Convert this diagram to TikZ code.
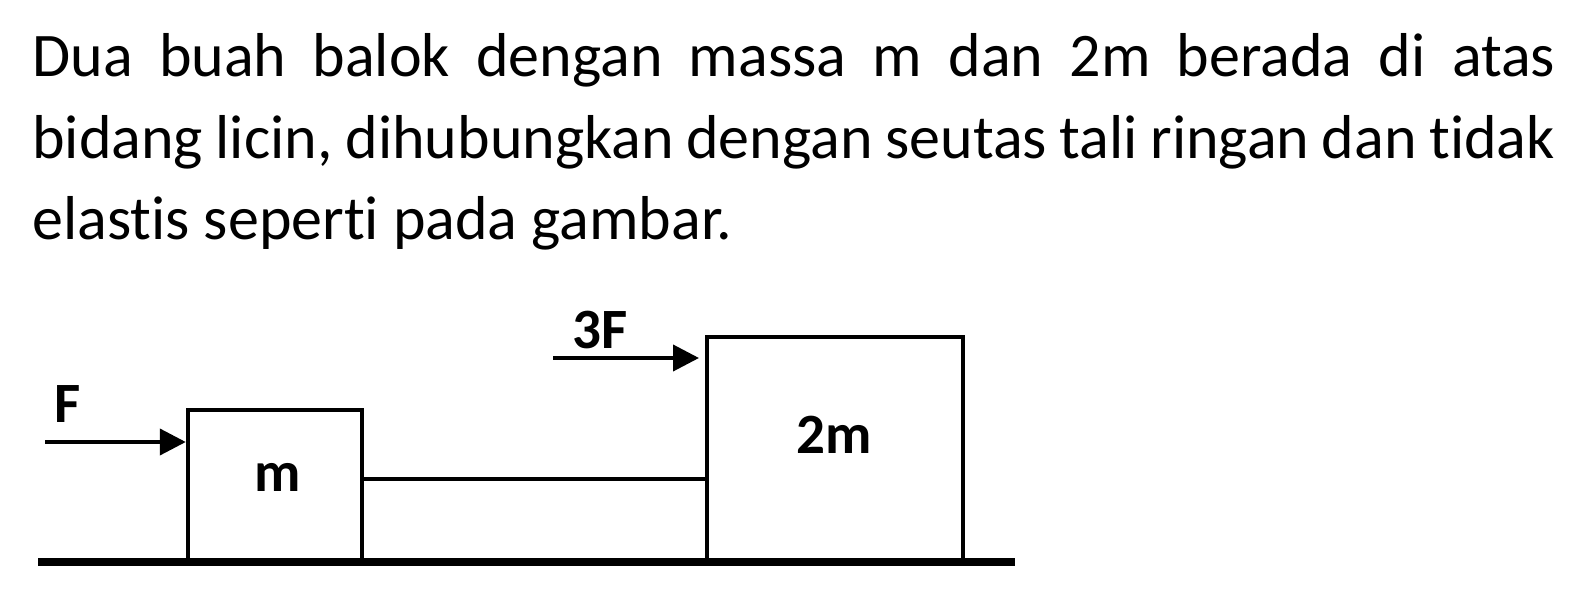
\documentclass[tikz,border=0pt]{standalone}
\usepackage{fontspec}
\setmainfont{Carlito}[Ligatures=NoCommon]
\usepackage{tikz}
\usetikzlibrary{arrows.meta}
\tikzstyle{every picture}=[x=0.5pt,y=-0.5pt]
\tikzstyle{balok}=[draw,line width=2.2pt,fill=white,inner sep=0pt]
\tikzstyle{gaya}=[line width=2pt,-{Triangle[length=13pt,width=13pt]}]
\tikzstyle{teks}=[anchor=base west,inner sep=0pt,font=\fontsize{31}{40}\selectfont]
\tikzstyle{lbl}=[inner sep=0pt,font=\fontsize{28.5}{30}\selectfont\bfseries]

\begin{document}
\begin{tikzpicture}
\useasboundingbox (0,0) rectangle (1584,604);
\node[teks] (l1) at (32,77) {\makebox[761.5pt][s]{Dua buah balok dengan massa m dan 2m berada di atas}};
\node[teks] (l2) at (32,158.5) {\makebox[761.5pt][s]{bidang licin, dihubungkan dengan seutas tali ringan dan tidak}};
\node[teks] (l3) at (32,240) {elastis seperti pada gambar.};
% balok
\node[balok, minimum width=87pt, minimum height=75pt] (a) at (275,485) {};
\node[balok, minimum width=128pt, minimum height=111.5pt] (b) at (835,448.5) {};
\node[lbl] (ma) at (278,477) {m};
\node[lbl] (mb) at (834,435) {2m};
% lantai
\coordinate (g1) at (38,562);
\coordinate (g2) at (1015,562);
\draw[line width=4pt] (g1) -- (g2);
% tali
\coordinate (s) at (0,479);
\draw[line width=1.8pt] (a.east |- s) -- (b.west |- s);
% gaya
\coordinate (f1) at (45,442);
\coordinate (h1) at (553,358);
\coordinate (h2) at (699,358);
\draw[gaya] (f1) -- (f1 -| a.west);
\draw[gaya] (h1) -- (h2);
\node[lbl] (fa) at (68,404) {F};
\node[lbl] (fb) at (600,330) {3F};
%\draw[gray] (a) -- (b);
\end{tikzpicture}
\end{document}
